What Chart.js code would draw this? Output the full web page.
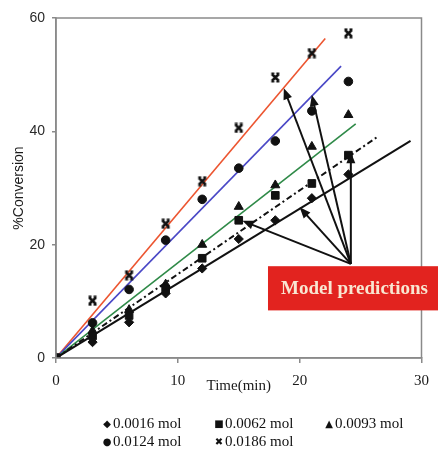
<!DOCTYPE html>
<html>
<head>
<meta charset="utf-8">
<script src="https://cdn.jsdelivr.net/npm/chart.js@4"></script>
<style>
  body { margin: 0; background: #fff; }
  #wrap { position: relative; width: 438px; height: 456px; }
  #legend { position: absolute; left: 0; top: 0; width: 438px; height: 456px; pointer-events: none;
            font-family: "Liberation Serif", serif; font-size: 15px; color: #111; }
  #legend .item { position: absolute; white-space: nowrap; line-height: 18px; }
  #legend .mk { font-family: "DejaVu Sans", sans-serif; font-size: 10px; display: inline-block; width: 10px; text-align: center; margin-right: 1px; vertical-align: 1px; }
</style>
</head>
<body>
<div id="wrap">
  <canvas id="myChart" width="438" height="456"></canvas>
  <div id="legend"></div>
</div>
<script>
// measured data (time in min, % conversion)
const times = [0, 3, 6, 9, 12, 15, 18, 21, 24];
const seriesNames = ["0.0016 mol", "0.0062 mol", "0.0093 mol", "0.0124 mol", "0.0186 mol"];
const conv0016 = [0, 2.8, 6.3, 11.4, 15.8, 21.0, 24.3, 28.2, 32.4];
const conv0062 = [0, 3.9, 7.5, 12.2, 17.6, 24.3, 28.7, 30.8, 35.8];
const conv0093 = [0, 4.8, 8.5, 13.0, 20.0, 26.7, 30.5, 37.3, 42.9];
const conv0124 = [0, 6.2, 12.1, 20.8, 28.0, 33.5, 38.3, 43.6, 48.8];
const conv0186 = [0, 10.1, 14.6, 23.7, 31.2, 40.6, 49.5, 53.8, 57.3];

// model prediction lines: start at origin, end point
const modelEndT = [29.1, 26.5, 24.6, 23.4, 22.1];
const modelEndV = [38.3, 39.2, 41.3, 51.5, 56.4];

// axis ticks
const xTicks = [0, 10, 20, 30];
const yTicks = [0, 20, 40, 60];

// arrows for "Model predictions" callout (time, conversion)
const arrowFrom = { t: 24.2, v: 16.6 };
const arrowTips = [
  { t: 18.7, v: 47.6 },
  { t: 21.0, v: 46.4 },
  { t: 24.2, v: 36.3 },
  { t: 20.0, v: 26.6 },
  { t: 15.3, v: 24.2 },
];

const lineColors = ["#111111", "#111111", "#2f8a48", "#4a48c6", "#ec5530"];
const lineDash = [[], [6, 3, 2, 3], [], [], []];
const lineWidths = [2, 2, 1.6, 1.6, 1.6];

function makeCross() {
  const c = document.createElement("canvas");
  c.width = 11;
  c.height = 11;
  const g = c.getContext("2d");
  g.strokeStyle = "#111";
  g.lineWidth = 2.6;
  g.beginPath();
  g.moveTo(2, 2); g.lineTo(9, 9);
  g.moveTo(9, 2); g.lineTo(2, 9);
  g.stroke();
  g.lineWidth = 1.6;
  g.beginPath();
  g.moveTo(1.5, 1.2); g.lineTo(4.5, 1.2);
  g.moveTo(6.5, 1.2); g.lineTo(9.5, 1.2);
  g.moveTo(1.5, 9.8); g.lineTo(4.5, 9.8);
  g.moveTo(6.5, 9.8); g.lineTo(9.5, 9.8);
  g.stroke();
  return c;
}

const pointStyles = ["rectRot", "rect", "triangle", "circle", makeCross()];
const pointSizes = [4.6, 5.4, 5.2, 4.3, 5];
const allConv = [conv0016, conv0062, conv0093, conv0124, conv0186];

const datasets = [];
for (let i = 0; i < 5; i++) {
  datasets.push({
    label: "model " + seriesNames[i],
    data: [{ x: 0, y: 0 }, { x: modelEndT[i], y: modelEndV[i] }],
    showLine: true,
    borderColor: lineColors[i],
    borderWidth: lineWidths[i],
    borderDash: lineDash[i],
    pointRadius: 0,
    order: 2,
  });
}
for (let i = 0; i < 5; i++) {
  datasets.push({
    label: seriesNames[i],
    data: times.map((t, k) => ({ x: t, y: allConv[i][k] })),
    showLine: false,
    pointStyle: pointStyles[i],
    pointRadius: pointSizes[i],
    backgroundColor: "#111",
    borderColor: "#111",
    borderWidth: 1,
    order: 1,
  });
}

function drawArrow(ctx, x0, y0, x1, y1) {
  const ang = Math.atan2(y1 - y0, x1 - x0);
  const len = 11, half = 4.5;
  ctx.beginPath();
  ctx.moveTo(x0, y0);
  ctx.lineTo(x1 - Math.cos(ang) * len * 0.8, y1 - Math.sin(ang) * len * 0.8);
  ctx.stroke();
  ctx.beginPath();
  ctx.moveTo(x1, y1);
  ctx.lineTo(x1 - Math.cos(ang) * len + Math.sin(ang) * half, y1 - Math.sin(ang) * len - Math.cos(ang) * half);
  ctx.lineTo(x1 - Math.cos(ang) * len - Math.sin(ang) * half, y1 - Math.sin(ang) * len + Math.cos(ang) * half);
  ctx.closePath();
  ctx.fill();
}

const extras = {
  id: "extras",
  afterDraw(chart) {
    const ctx = chart.ctx;
    const a = chart.chartArea;
    const xs = chart.scales.x, ys = chart.scales.y;
    ctx.save();
    // frame
    ctx.strokeStyle = "#8a8a8a";
    ctx.lineWidth = 1.5;
    ctx.strokeRect(a.left, a.top, a.right - a.left, a.bottom - a.top);
    // arrows
    ctx.strokeStyle = "#111";
    ctx.fillStyle = "#111";
    ctx.lineWidth = 2;
    const fx = xs.getPixelForValue(arrowFrom.t), fy = ys.getPixelForValue(arrowFrom.v);
    arrowTips.forEach((p) => {
      drawArrow(ctx, fx, fy, xs.getPixelForValue(p.t), ys.getPixelForValue(p.v));
    });
    // callout box
    const bx = xs.getPixelForValue(17.4);
    const by = ys.getPixelForValue(16.2);
    const bb = ys.getPixelForValue(8.4);
    ctx.fillStyle = "#e2231f";
    ctx.fillRect(bx, by, chart.width - bx, bb - by);
    ctx.fillStyle = "#f8e6d2";
    ctx.font = "bold 19px 'Liberation Serif', serif";
    ctx.textBaseline = "middle";
    ctx.fillText("Model predictions", bx + 13, (by + bb) / 2 + 1);
    ctx.restore();
  },
};

new Chart(document.getElementById("myChart"), {
  type: "scatter",
  data: { datasets: datasets },
  options: {
    responsive: false,
    animation: false,
    layout: { padding: { top: 18, right: 8, left: 0, bottom: 0 } },
    plugins: { legend: { display: false }, tooltip: { enabled: false } },
    scales: {
      x: {
        type: "linear",
        min: 0,
        max: 30,
        afterBuildTicks: (scale) => { scale.ticks = xTicks.map((v) => ({ value: v })); },
        afterFit: (scale) => { scale.height = 98; },
        grid: { drawOnChartArea: false, tickLength: 5, color: "#8a8a8a", lineWidth: 1.5 },
        border: { color: "#8a8a8a", width: 1.5 },
        ticks: { color: "#1a1a1a", padding: 9, font: { family: "'Liberation Serif', serif", size: 15 } },
        title: {
          display: true,
          text: "Time(min)",
          color: "#1a1a1a",
          padding: { top: 0, bottom: 61 },
          font: { family: "'Liberation Serif', serif", size: 15 },
        },
      },
      y: {
        type: "linear",
        min: 0,
        max: 60,
        afterBuildTicks: (scale) => { scale.ticks = yTicks.map((v) => ({ value: v })); },
        afterFit: (scale) => { scale.width = 56; },
        grid: { drawOnChartArea: false, tickLength: 4, color: "#8a8a8a", lineWidth: 1.5 },
        border: { color: "#8a8a8a", width: 1.5 },
        ticks: { color: "#2a2a2a", padding: 7, font: { family: "'Liberation Sans', sans-serif", size: 14 } },
        title: {
          display: true,
          text: "%Conversion",
          color: "#1a1a1a",
          padding: { top: 11, bottom: 0 },
          font: { family: "'Liberation Sans', sans-serif", size: 14 },
        },
      },
    },
  },
  plugins: [extras],
});

// legend below the plot, two rows
const legendMarks = ["\u25C6", "\u25A0", "\u25B2", "\u25CF", "\u2716"];
const legendPos = [
  { left: 102, top: 414 },
  { left: 214, top: 414 },
  { left: 324, top: 414 },
  { left: 102, top: 432 },
  { left: 214, top: 432 },
];
const legendEl = document.getElementById("legend");
seriesNames.forEach((name, i) => {
  const d = document.createElement("div");
  d.className = "item";
  d.style.left = legendPos[i].left + "px";
  d.style.top = legendPos[i].top + "px";
  d.innerHTML = '<span class="mk">' + legendMarks[i] + "</span>" + name;
  legendEl.appendChild(d);
});
</script>
</body>
</html>
